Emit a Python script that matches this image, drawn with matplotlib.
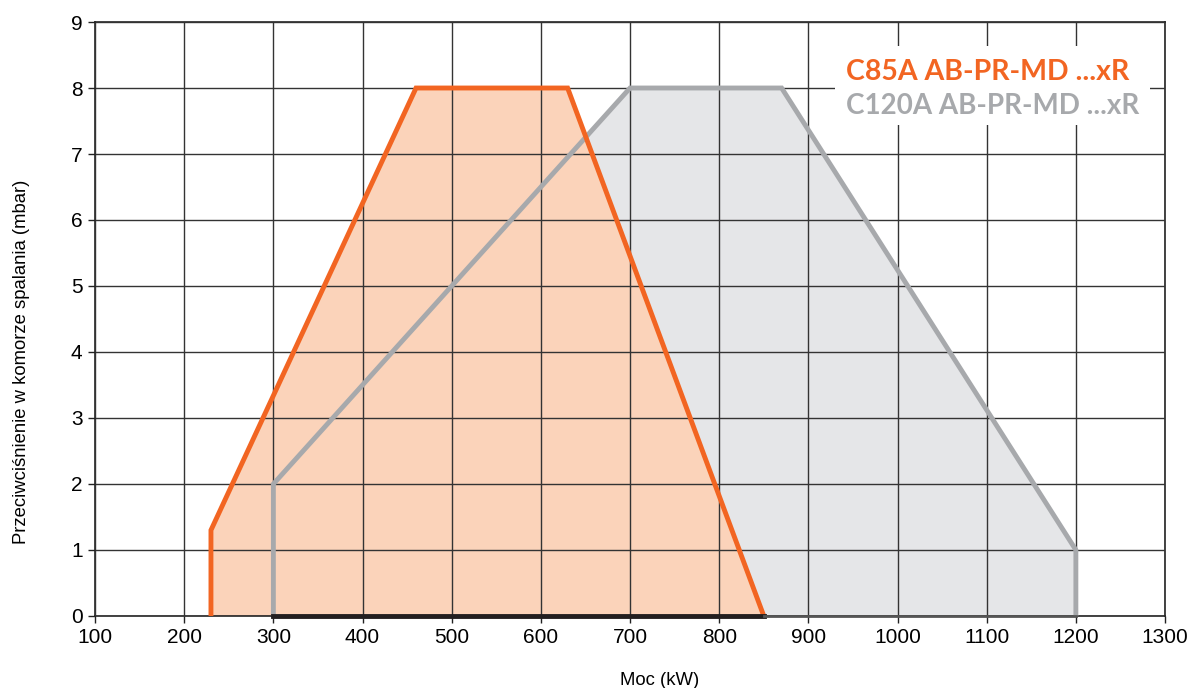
import matplotlib.pyplot as plt
from matplotlib.patches import Rectangle

# Operating field data (power kW, pressure mbar)
c85_power = [230, 230, 460, 630, 850]
c85_press = [0, 1.3, 8, 8, 0]
c120_power = [300, 300, 700, 870, 1200, 1200]
c120_press = [0, 2, 8, 8, 1, 0]
names = ["C85A AB-PR-MD ...xR", "C120A AB-PR-MD ...xR"]

orange = "#F26522"
orange_fill = "#FBD3BA"
grey = "#A7A9AC"
grey_fill = "#E5E6E8"

fig = plt.figure(figsize=(11.97, 6.88), dpi=100)
ax = fig.add_axes([0.0794, 0.1047, 0.8939, 0.8633])

ax.fill(c120_power, c120_press, color=grey_fill, zorder=1)
ax.fill(c85_power, c85_press, color=orange_fill, zorder=1.1)
ax.plot(c120_power, c120_press, color=grey, lw=3.5, zorder=3,
        solid_joinstyle="miter")
ax.plot(c85_power, c85_press, color=orange, lw=3.5, zorder=4,
        solid_joinstyle="miter")
# dark baseline under the fields
ax.plot([c120_power[0], c85_power[-1]], [0, 0], color="#231F20", lw=3.5,
        zorder=5, clip_on=False)
ax.plot([c85_power[-1], c120_power[-1]], [0, 0], color="#555555", lw=2,
        zorder=5, clip_on=False)

ax.set_xlim(100, 1300)
ax.set_ylim(0, 9)
ax.set_xticks(range(100, 1301, 100))
ax.set_yticks(range(0, 10))
ax.grid(True, color="#333333", lw=1, zorder=2)
ax.set_axisbelow(False)
for s in ax.spines.values():
    s.set_color("#222222")
    s.set_linewidth(1.2)
ax.tick_params(labelsize=15, length=5, width=1, color="#222222", pad=4)
for lab in ax.get_xticklabels() + ax.get_yticklabels():
    lab.set_family("Liberation Sans")

ax.set_xlabel("Moc (kW)", fontsize=13.3, family="Liberation Sans")
ax.set_ylabel("Przeciwciśnienie w komorze spalania (mbar)", fontsize=13.3,
              family="Liberation Sans")
ax.xaxis.set_label_coords(0.528, -0.095)
ax.yaxis.set_label_coords(-0.061, 0.428)

# legend box covering the grid
ax.add_patch(Rectangle((930, 7.44), 353, 1.2, facecolor="white", edgecolor="none",
                       zorder=6))
ax.text(942, 8.24, names[0], color=orange, fontsize=20.5, fontweight="bold",
        family="Lato", ha="left", va="center", zorder=7)
ax.text(942, 7.73, names[1], color=grey, fontsize=20, fontweight="bold",
        family="Lato", ha="left", va="center", zorder=7)

fig.savefig("out.png", dpi=100)
